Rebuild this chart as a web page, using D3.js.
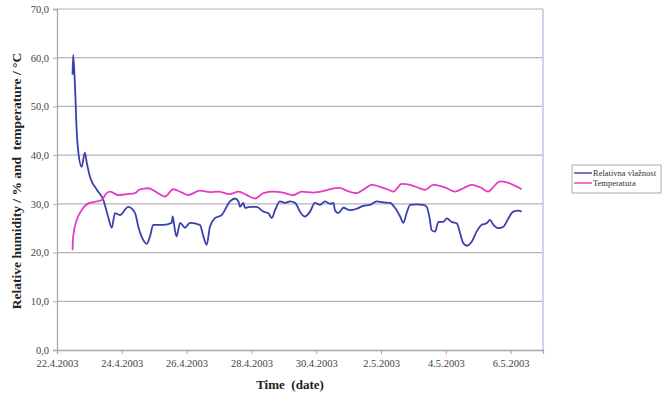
<!DOCTYPE html>
<html>
<head>
<meta charset="utf-8">
<script src="https://cdn.jsdelivr.net/npm/d3@7"></script>
<style>
body { margin: 0; background: #fff; }
text { font-family: "Liberation Serif", "DejaVu Serif", serif; }
</style>
</head>
<body>
<script>
// day offsets from 22.4.2003 00:00
var humDays = [0.48,0.50,0.56,0.61,0.66,0.76,0.86,0.92,1.02,1.23,1.43,1.58,1.69,1.79,1.94,2.20,2.41,2.51,2.66,2.77,2.87,2.97,3.28,3.54,3.57,3.64,3.69,3.80,3.95,4.10,4.41,4.52,4.62,4.72,4.88,5.08,5.34,5.49,5.60,5.65,5.75,5.80,5.96,6.16,6.37,6.52,6.63,6.73,6.88,7.04,7.19,7.35,7.50,7.65,7.81,7.96,8.12,8.27,8.43,8.53,8.58,8.68,8.84,9.04,9.25,9.45,9.66,9.87,10.07,10.28,10.43,10.59,10.69,10.79,10.90,11.10,11.31,11.41,11.51,11.56,11.67,11.77,11.92,12.03,12.18,12.34,12.44,12.54,12.65,12.80,12.95,13.11,13.26,13.36,13.47,13.62,13.78,13.93,14.08,14.24,14.34];
var humValues = [56.5,60.6,53.4,44.6,40.5,37.6,40.5,38.4,35.5,32.9,30.8,27.3,25.1,28.1,27.7,29.4,28.1,25.3,22.6,21.8,23.3,25.7,25.7,26.1,27.4,24.6,23.3,26.1,25.1,26.1,25.7,23.3,21.6,25.3,27.1,27.7,30.5,31.1,30.5,29.4,30.2,29.2,29.4,29.4,28.4,28.1,27.1,28.7,30.5,30.2,30.5,30.2,28.4,27.4,28.4,30.2,29.8,30.5,30.0,30.2,28.7,28.1,29.2,28.7,29.0,29.6,29.8,30.5,30.3,30.2,29.2,27.4,26.1,28.1,29.8,29.9,29.8,29.4,26.7,24.6,24.3,26.3,26.3,27.0,26.3,26.0,24.0,21.9,21.4,22.2,24.3,25.7,26.0,26.7,25.7,25.0,25.3,27.0,28.4,28.6,28.4];

var tempDays = [0.48,0.50,0.61,0.76,0.97,1.23,1.38,1.53,1.64,1.89,2.15,2.41,2.54,2.82,3.09,3.33,3.59,3.83,4.05,4.41,4.72,4.97,5.34,5.60,5.86,6.11,6.37,6.68,6.98,7.29,7.55,7.91,8.27,8.53,8.73,8.94,9.25,9.45,9.71,9.97,10.23,10.38,10.64,10.90,11.20,11.36,11.61,11.82,12.03,12.28,12.54,12.80,13.06,13.31,13.47,13.67,13.88,14.08,14.29,14.34];
var tempValues = [20.5,23.3,26.7,28.7,30.1,30.5,30.8,32.2,32.5,31.8,32.0,32.2,32.9,33.2,32.3,31.5,33.0,32.4,31.8,32.7,32.4,32.5,32.0,32.5,31.8,31.1,32.2,32.5,32.3,31.8,32.5,32.3,32.7,33.2,33.3,32.7,32.2,32.9,33.9,33.5,32.9,32.5,34.1,33.9,33.2,32.9,33.9,33.7,33.2,32.5,33.2,33.9,33.4,32.5,33.5,34.6,34.4,33.9,33.2,33.0];

var tickLabels = ["22.4.2003","24.4.2003","26.4.2003","28.4.2003","30.4.2003","2.5.2003","4.5.2003","6.5.2003"];
var yTicks = [0,10,20,30,40,50,60,70];
var seriesNames = ["Relativna vlažnost","Temperatura"];
var seriesColors = ["#3a3fae","#e43cc4"];

var width = 664, height = 398;
var plotLeft = 57, plotRight = 543, plotTop = 9, plotBottom = 350;

var start = Date.UTC(2003,3,22);
var parse = d3.utcParse("%d.%m.%Y");
function toDate(d){ return new Date(start + d*86400000); }

var x = d3.scaleUtc()
	.domain([new Date(start), new Date(Date.UTC(2003,4,7))])
	.range([plotLeft, plotRight]);
var y = d3.scaleLinear().domain([0,70]).range([plotBottom, plotTop]);

var svg = d3.select("body").append("svg")
	.attr("width", width)
	.attr("height", height);

// grid
svg.selectAll("line.grid")
	.data(yTicks.slice(1))
	.enter().append("line")
	.attr("class","grid")
	.attr("x1", plotLeft).attr("x2", plotRight)
	.attr("y1", function(d){return y(d);})
	.attr("y2", function(d){return y(d);})
	.attr("stroke", "#b4b4bc")
	.attr("stroke-width", 1.2);

// right border
svg.append("line")
	.attr("x1", plotRight).attr("x2", plotRight)
	.attr("y1", plotTop).attr("y2", plotBottom)
	.attr("stroke", "#cbbde3").attr("stroke-width", 1.5);

var yAxis = svg.append("g")
	.attr("transform", "translate(" + plotLeft + ",0)")
	.call(d3.axisLeft(y).tickValues(yTicks).tickSize(4).tickPadding(4)
		.tickFormat(function(d){ return d3.format(".1f")(d).replace(".", ","); }));

var xAxis = svg.append("g")
	.attr("transform", "translate(0," + plotBottom + ")")
	.call(d3.axisBottom(x).tickValues(tickLabels.map(parse)).tickSize(4).tickPadding(6)
		.tickFormat(d3.utcFormat("%-d.%-m.%Y")));

[yAxis, xAxis].forEach(function(a){
	a.select(".domain").attr("stroke", "#a8a8a8").attr("stroke-width", 1.3);
	a.selectAll(".tick line").attr("stroke", "#a8a8a8");
	a.selectAll("text")
		.attr("font-family", "'Liberation Serif', serif")
		.attr("font-size", 10.5)
		.attr("fill", "#444");
});

var line = d3.line()
	.curve(d3.curveMonotoneX)
	.x(function(d){ return x(toDate(d[0])); })
	.y(function(d){ return y(d[1]); });

var series = [
	d3.zip(humDays, humValues),
	d3.zip(tempDays, tempValues)
];

svg.selectAll("path.series")
	.data(series)
	.enter().append("path")
	.attr("class", "series")
	.attr("d", line)
	.attr("fill", "none")
	.attr("stroke", function(d,i){ return seriesColors[i]; })
	.attr("stroke-width", 1.8)
	.attr("stroke-linejoin", "round");

// axis titles
svg.append("text")
	.attr("transform", "translate(21,181) rotate(-90)")
	.attr("text-anchor", "middle")
	.attr("font-weight", "bold")
	.attr("font-size", 13.5)
	.attr("fill", "#222")
	.style("white-space", "pre")
	.text("Relative humidity / % and  temperature / °C");

svg.append("text")
	.attr("x", 290).attr("y", 389)
	.attr("text-anchor", "middle")
	.attr("font-weight", "bold")
	.attr("font-size", 13)
	.attr("fill", "#222")
	.style("white-space", "pre")
	.text("Time  (date)");

// legend
var lg = svg.append("g").attr("transform", "translate(572,165)");
lg.append("rect")
	.attr("width", 89).attr("height", 28)
	.attr("fill", "#fff").attr("stroke", "#999").attr("stroke-width", 0.8);
var items = lg.selectAll("g.item")
	.data(seriesNames)
	.enter().append("g")
	.attr("transform", function(d,i){ return "translate(0," + (8 + i*10) + ")"; });
items.append("line")
	.attr("x1", 2).attr("x2", 20)
	.attr("stroke", function(d,i){ return seriesColors[i]; })
	.attr("stroke-width", 1.4);
items.append("text")
	.attr("x", 21).attr("y", 3)
	.attr("font-size", 8.5)
	.attr("fill", "#333")
	.text(function(d){ return d; });
</script>
</body>
</html>
